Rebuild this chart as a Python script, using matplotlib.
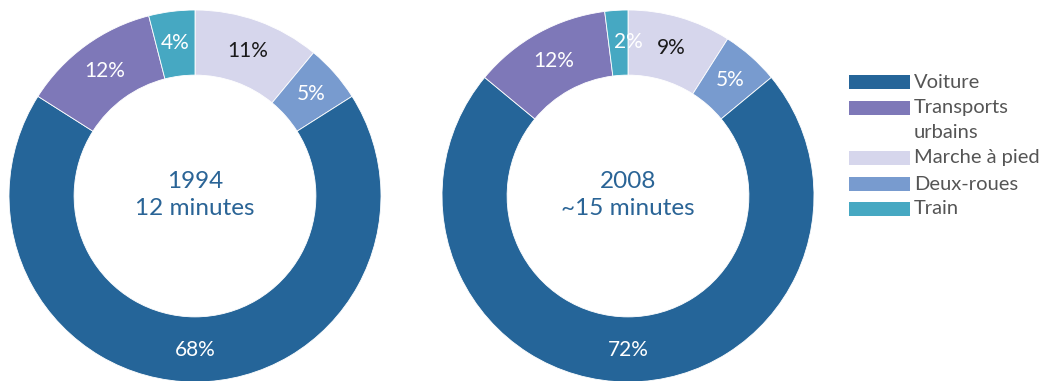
import matplotlib
matplotlib.use("Agg")
import matplotlib.pyplot as plt
from matplotlib.patches import Rectangle
import numpy as np

plt.rcParams['font.family'] = ['Lato', 'DejaVu Sans']

categories = ["Marche à pied", "Deux-roues", "Voiture", "Transports urbains", "Train"]
values_1994 = [11, 5, 68, 12, 4]
values_2008 = [9, 5, 72, 12, 2]
centre_1994 = "1994\n12 minutes"
centre_2008 = "2008\n~15 minutes"
legend_keys = ["Voiture", "Transports urbains", "Marche à pied", "Deux-roues", "Train"]
legend_labels = ["Voiture", "Transports\nurbains", "Marche à pied", "Deux-roues", "Train"]

colors = {
    "Voiture": "#256599",
    "Transports urbains": "#7e78b8",
    "Marche à pied": "#d6d6ec",
    "Deux-roues": "#789bcf",
    "Train": "#46a8c2",
}
label_colors = {"Marche à pied": "#1a1a1a"}

W, H = 1045, 381
fig = plt.figure(figsize=(W / 100, H / 100), dpi=100)


def add_donut(cx, cy, r, values, centre):
    ax = fig.add_axes([(cx - r) / W, 1 - (cy + r) / H, 2 * r / W, 2 * r / H])
    ax.pie(values, colors=[colors[c] for c in categories],
           startangle=90, counterclock=False, radius=1.0,
           wedgeprops=dict(width=0.35, edgecolor='white', linewidth=0.6))
    total = sum(values)
    cum = 0
    for cat, v in zip(categories, values):
        mid = 90 - (cum + v / 2) / total * 360
        cum += v
        rr = 0.83
        x = rr * np.cos(np.radians(mid))
        if v <= 2:
            x = max(x, 0.0)
        ax.text(x, rr * np.sin(np.radians(mid)), f"{v}%",
                ha='center', va='center', fontsize=15,
                color=label_colors.get(cat, 'white'))
    ax.text(0, 0.005, centre, ha='center', va='center', fontsize=17.5,
            color='#2a6496', linespacing=1.4)
    ax.set_xlim(-1, 1)
    ax.set_ylim(-1, 1)
    ax.set_aspect('equal')
    ax.axis('off')


add_donut(195, 196, 186, values_1994, centre_1994)
add_donut(628, 196, 186, values_2008, centre_2008)

# Legend drawn in pixel coordinates
lax = fig.add_axes([0, 0, 1, 1])
lax.set_xlim(0, W)
lax.set_ylim(H, 0)
lax.axis('off')
row_y = [82, 108, 158, 184, 209]
for key, lab, y in zip(legend_keys, legend_labels, row_y):
    lax.add_patch(Rectangle((849, y - 7), 61, 14, facecolor=colors[key], edgecolor='none'))
    lines = lab.split("\n")
    for i, line in enumerate(lines):
        lax.text(914, y + i * 25, line, ha='left', va='center', fontsize=14.5,
                 color='#555555')

fig.savefig("out.png", dpi=100)
